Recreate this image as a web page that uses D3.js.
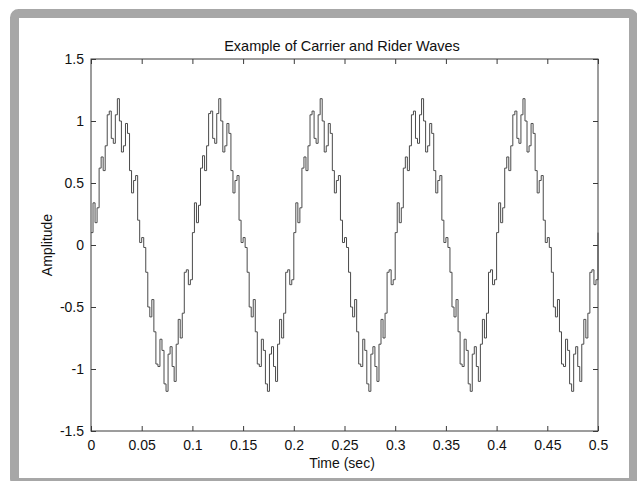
<!DOCTYPE html>
<html>
<head>
<meta charset="utf-8">
<script src="https://cdn.jsdelivr.net/npm/d3@7/dist/d3.min.js"></script>
<style>
  html, body { margin: 0; padding: 0; background: #ffffff; }
  svg { display: block; }
  text { font-family: "Liberation Sans", Arial, Helvetica, sans-serif; fill: #111; }
</style>
</head>
<body>
<svg id="chart" width="637" height="481"></svg>
<script>
// ---- data ----
const chartTitle = "Example of Carrier and Rider Waves";
const xLabel = "Time (sec)";
const yLabel = "Amplitude";
const sampleStep = 0.002;   // seconds between samples
const amplitude = [
  // period 1 (0 - 0.1 s)
  0.10, 0.34, 0.18, 0.30, 0.62, 0.71, 0.60, 0.80, 1.05, 1.08,
  0.86, 0.82, 1.05, 1.18, 1.00, 0.75, 0.80, 0.98, 0.90, 0.60,
  0.42, 0.52, 0.56, 0.20, 0.02, 0.06, -0.02, -0.22, -0.50, -0.58,
  -0.44, -0.70, -0.96, -0.98, -0.76, -0.85, -1.12, -1.18, -0.88, -0.82,
  -0.98, -1.10, -0.80, -0.60, -0.75, -0.55, -0.22, -0.20, -0.32, -0.28,
  // period 2 (0.1 - 0.2 s)
  0.10, 0.34, 0.18, 0.32, 0.62, 0.72, 0.60, 0.80, 1.06, 1.08,
  0.86, 0.82, 1.06, 1.18, 1.00, 0.75, 0.80, 0.98, 0.90, 0.60,
  0.42, 0.52, 0.56, 0.20, 0.02, 0.06, -0.02, -0.22, -0.50, -0.58,
  -0.44, -0.70, -0.96, -0.98, -0.76, -0.85, -1.12, -1.18, -0.88, -0.82,
  -0.98, -1.10, -0.80, -0.60, -0.75, -0.55, -0.22, -0.20, -0.32, -0.28,
  // period 3 (0.2 - 0.3 s)
  0.10, 0.34, 0.18, 0.30, 0.62, 0.71, 0.60, 0.80, 1.05, 1.08,
  0.86, 0.82, 1.05, 1.18, 1.00, 0.75, 0.80, 0.98, 0.90, 0.60,
  0.42, 0.52, 0.56, 0.20, 0.02, 0.06, -0.02, -0.22, -0.50, -0.58,
  -0.44, -0.70, -0.96, -0.98, -0.76, -0.85, -1.12, -1.18, -0.88, -0.82,
  -0.98, -1.10, -0.80, -0.60, -0.75, -0.55, -0.22, -0.20, -0.32, -0.28,
  // period 4 (0.3 - 0.4 s)
  0.10, 0.34, 0.18, 0.30, 0.62, 0.71, 0.60, 0.80, 1.05, 1.08,
  0.86, 0.82, 1.05, 1.18, 1.00, 0.75, 0.80, 0.98, 0.90, 0.60,
  0.42, 0.52, 0.56, 0.20, 0.02, 0.06, -0.02, -0.22, -0.50, -0.58,
  -0.44, -0.70, -0.96, -0.98, -0.76, -0.85, -1.12, -1.18, -0.88, -0.82,
  -0.98, -1.10, -0.80, -0.60, -0.75, -0.55, -0.22, -0.20, -0.32, -0.28,
  // period 5 (0.4 - 0.5 s)
  0.10, 0.34, 0.18, 0.30, 0.62, 0.71, 0.60, 0.80, 1.05, 1.08,
  0.86, 0.82, 1.05, 1.18, 1.00, 0.75, 0.80, 0.98, 0.90, 0.60,
  0.42, 0.52, 0.56, 0.20, 0.02, 0.06, -0.02, -0.22, -0.50, -0.58,
  -0.44, -0.70, -0.96, -0.98, -0.76, -0.85, -1.12, -1.18, -0.88, -0.82,
  -0.98, -1.10, -0.80, -0.60, -0.75, -0.55, -0.22, -0.20, -0.32, -0.28,
  0.10
];
const xTicks = [0, 0.05, 0.1, 0.15, 0.2, 0.25, 0.3, 0.35, 0.4, 0.45, 0.5];
const xTickLabels = ["0", "0.05", "0.1", "0.15", "0.2", "0.25", "0.3", "0.35", "0.4", "0.45", "0.5"];
const yTicks = [-1.5, -1, -0.5, 0, 0.5, 1, 1.5];
const yTickLabels = ["-1.5", "-1", "-0.5", "0", "0.5", "1", "1.5"];

// ---- drawing ----
const svg = d3.select("#chart");
const W = 637, H = 481;
const plot = { left: 91, right: 598, top: 59, bottom: 431 };

// outer grey frame
svg.append("rect").attr("x", 0).attr("y", 0).attr("width", W).attr("height", H).attr("fill", "#ffffff");
svg.append("rect")
  .attr("x", 14.5).attr("y", 13.5).attr("width", 619).attr("height", 469)
  .attr("rx", 4).attr("fill", "#ffffff")
  .attr("stroke", "#a7a7a7").attr("stroke-width", 9);

const x = d3.scaleLinear().domain([0, 0.5]).range([plot.left, plot.right]);
const y = d3.scaleLinear().domain([-1.5, 1.5]).range([plot.bottom, plot.top]);

const data = amplitude.map((v, i) => ({ t: i * sampleStep, v: v }));

// axes box
const axisColor = "#3a3a3a";
svg.append("rect")
  .attr("x", plot.left).attr("y", plot.top)
  .attr("width", plot.right - plot.left).attr("height", plot.bottom - plot.top)
  .attr("fill", "none").attr("stroke", axisColor).attr("stroke-width", 1);

const fmtX = (d) => xTickLabels[xTicks.indexOf(d)];
const fmtY = (d) => yTickLabels[yTicks.indexOf(d)];

const gx = svg.append("g").attr("transform", `translate(0,${plot.bottom})`)
  .call(d3.axisBottom(x).tickValues(xTicks).tickFormat(fmtX).tickSizeInner(-5).tickSizeOuter(0).tickPadding(9));
const gxTop = svg.append("g").attr("transform", `translate(0,${plot.top})`)
  .call(d3.axisTop(x).tickValues(xTicks).tickFormat("").tickSizeInner(-5).tickSizeOuter(0));
const gy = svg.append("g").attr("transform", `translate(${plot.left},0)`)
  .call(d3.axisLeft(y).tickValues(yTicks).tickFormat(fmtY).tickSizeInner(-5).tickSizeOuter(0).tickPadding(7));
const gyRight = svg.append("g").attr("transform", `translate(${plot.right},0)`)
  .call(d3.axisRight(y).tickValues(yTicks).tickFormat("").tickSizeInner(-5).tickSizeOuter(0));

[gx, gxTop, gy, gyRight].forEach(g => {
  g.select(".domain").remove();
  g.selectAll(".tick line").attr("stroke", axisColor);
  g.selectAll("text").attr("font-size", 14).attr("fill", "#111")
    .style("font-family", '"Liberation Sans", Arial, sans-serif');
});

// the wave
const line = d3.line()
  .x(d => x(d.t))
  .y(d => y(d.v))
  .curve(d3.curveStepAfter);

svg.append("path")
  .datum(data)
  .attr("d", line)
  .attr("fill", "none")
  .attr("stroke", "#4a4a4a")
  .attr("stroke-width", 1);

// title and labels
svg.append("text")
  .attr("x", 342).attr("y", 51)
  .attr("text-anchor", "middle").attr("font-size", 14.5)
  .text(chartTitle);

svg.append("text")
  .attr("x", 342).attr("y", 468)
  .attr("text-anchor", "middle").attr("font-size", 14)
  .text(xLabel);

svg.append("text")
  .attr("transform", `translate(52,${(plot.top + plot.bottom) / 2}) rotate(-90)`)
  .attr("text-anchor", "middle").attr("font-size", 14)
  .text(yLabel);
</script>
</body>
</html>
